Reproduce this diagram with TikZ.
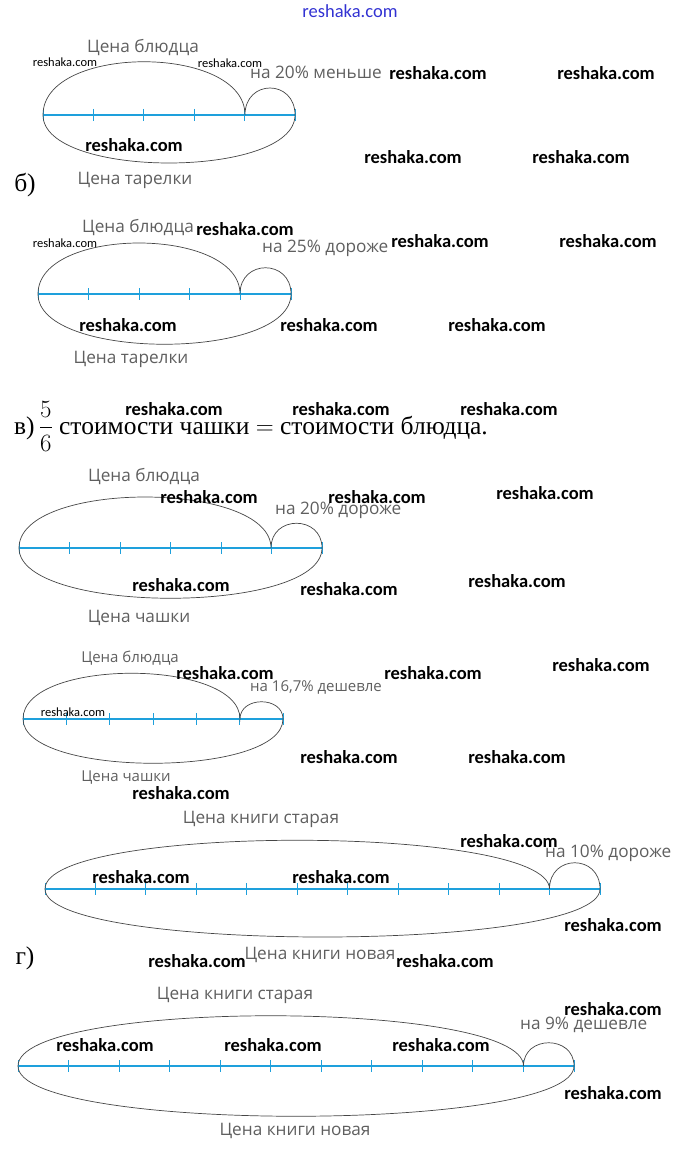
\documentclass[tikz,border=0pt]{standalone}
\usepackage{amsmath}
\usepackage{fontspec}
\setmainfont{Liberation Serif}
\newfontfamily\labelfont{Open Sans}
\newfontfamily\markfont{Carlito}
\usetikzlibrary{positioning,calc}

\definecolor{lineblue}{RGB}{30,160,220}
\definecolor{arcgray}{RGB}{70,70,70}
\definecolor{labelgray}{RGB}{95,95,95}
\definecolor{siteblue}{RGB}{50,50,210}

\begin{document}
\begin{tikzpicture}[x=1pt,y=-1pt,
  numline/.style={lineblue,line width=1.6pt},
  tickmark/.style={lineblue,line width=0.9pt},
  arcline/.style={arcgray,line width=0.7pt},
  lbl/.style={labelgray,inner sep=0pt,font=\labelfont\fontsize{17.2}{19}\selectfont},
  lblsmall/.style={labelgray,inner sep=0pt,font=\labelfont\fontsize{15}{17}\selectfont},
  difflbl/.style={lbl,anchor=west},
  serif/.style={inner sep=0pt,font=\fontsize{25.5}{30}\selectfont},
  wmark/.style={inner sep=0pt,font=\markfont\bfseries\fontsize{18.5}{20}\selectfont},
  wsmall/.style={inner sep=0pt,font=\markfont\fontsize{12.5}{14}\selectfont}
]
\useasboundingbox (0,0) rectangle (698,1158);

% б) first picture
\coordinate (L1) at (43,115);
\coordinate (J1) at (245,115);
\coordinate (R1) at (295,115);
\draw[numline] (L1) -- (R1);
\foreach \i in {0,...,5} \draw[tickmark] ($(L1)!\i/5!(R1)$) +(0,-6) -- +(0,6);
\draw[arcline] (L1) .. controls +(0,-71) and +(0,-71) .. (J1)
  .. controls +(0,-36) and +(0,-36) .. (R1)
  .. controls +(0,64) and +(0,64) .. (L1);
\node[lbl] (price1) at (143,48) {Цена блюдца};
\node[difflbl] (diff1) at (250,72) {на 20\% меньше};
\node[lbl] (base1) at (135,180) {Цена тарелки};
\node[serif] (task1) at (25,185) {б)};

% б) second picture
\coordinate (L2) at (38,294);
\coordinate (J2) at (240,294);
\coordinate (R2) at (291,294);
\draw[numline] (L2) -- (R2);
\foreach \i in {0,...,5} \draw[tickmark] ($(L2)!\i/5!(R2)$) +(0,-6) -- +(0,6);
\draw[arcline] (L2) .. controls +(0,-68) and +(0,-68) .. (J2)
  .. controls +(0,-35) and +(0,-35) .. (R2)
  .. controls +(0,67) and +(0,67) .. (L2);
\node[lbl] (price2) at (138,228) {Цена блюдца};
\node[difflbl] (diff2) at (262,248) {на 25\% дороже};
\node[lbl] (base2) at (131,359) {Цена тарелки};

% в)
\node[serif,anchor=base west] (task3) at (14,434)
  {в)\,$\dfrac{5}{6}$ стоимости чашки $=$ стоимости блюдца.};

\coordinate (L3) at (19,548);
\coordinate (J3) at (271,548);
\coordinate (R3) at (322,548);
\draw[numline] (L3) -- (R3);
\foreach \i in {0,...,6} \draw[tickmark] ($(L3)!\i/6!(R3)$) +(0,-6) -- +(0,6);
\draw[arcline] (L3) .. controls +(0,-68) and +(0,-68) .. (J3)
  .. controls +(0,-33) and +(0,-33) .. (R3)
  .. controls +(0,67) and +(0,67) .. (L3);
\node[lbl] (price3) at (144,477) {Цена блюдца};
\node[difflbl] (diff3) at (275,510) {на 20\% дороже};
\node[lbl] (base3) at (139,618) {Цена чашки};

\coordinate (L4) at (23,719);
\coordinate (J4) at (240,719);
\coordinate (R4) at (283,719);
\draw[numline] (L4) -- (R4);
\foreach \i in {0,...,6} \draw[tickmark] ($(L4)!\i/6!(R4)$) +(0,-6) -- +(0,6);
\draw[arcline] (L4) .. controls +(0,-61) and +(0,-61) .. (J4)
  .. controls +(0,-23) and +(0,-23) .. (R4)
  .. controls +(0,59) and +(0,59) .. (L4);
\node[lblsmall] (price4) at (130,658) {Цена блюдца};
\node[lblsmall,anchor=west] (diff4) at (250,687) {на 16,7\% дешевле};
\node[lblsmall] (base4) at (126,778) {Цена чашки};

% г)
\coordinate (L5) at (45,889);
\coordinate (J5) at (549.5,889);
\coordinate (R5) at (600,889);
\draw[numline] (L5) -- (R5);
\foreach \i in {0,...,11} \draw[tickmark] ($(L5)!\i/11!(R5)$) +(0,-6) -- +(0,6);
\draw[arcline] (L5) .. controls +(0,-65) and +(0,-65) .. (J5)
  .. controls +(0,-35) and +(0,-35) .. (R5)
  .. controls +(0,64) and +(0,64) .. (L5);
\node[lbl] (price5) at (261,819) {Цена книги старая};
\node[difflbl] (diff5) at (545,853) {на 10\% дороже};
\node[lbl] (base5) at (320,955) {Цена книги новая};
\node[serif] (task5) at (25,958) {г)};

\coordinate (L6) at (18,1066);
\coordinate (J6) at (523.5,1066);
\coordinate (R6) at (574,1066);
\draw[numline] (L6) -- (R6);
\foreach \i in {0,...,11} \draw[tickmark] ($(L6)!\i/11!(R6)$) +(0,-6) -- +(0,6);
\draw[arcline] (L6) .. controls +(0,-67) and +(0,-67) .. (J6)
  .. controls +(0,-31) and +(0,-31) .. (R6)
  .. controls +(0,67) and +(0,67) .. (L6);
\node[lbl] (price6) at (235,995) {Цена книги старая};
\node[difflbl] (diff6) at (520,1025) {на 9\% дешевле};
\node[lbl] (base6) at (295,1131) {Цена книги новая};

% site marks
\node[inner sep=0pt,siteblue,font=\markfont\fontsize{18.5}{20}\selectfont] (site) at (350,11) {reshaka.com};
\foreach \x/\y [count=\n] in {438/73,606/73,134/145,413/157,581/157,
    245/229,440/241,608/241,128/325,329/325,497/325,
    174/409,341/409,509/409,209/497,377/497,545/493,181/585,349/589,517/581,
    225/673,433/673,601/665,349/757,517/757,181/793,
    509/841,141/877,341/877,613/925,197/961,445/961,
    613/1009,105/1045,273/1045,441/1045,613/1093}
  \node[wmark] (w\n) at (\x,\y) {reshaka.com};
\foreach \x/\y [count=\n] in {65/62,230/63,65/243,73/712}
  \node[wsmall] (ws\n) at (\x,\y) {reshaka.com};
\end{tikzpicture}
\end{document}
